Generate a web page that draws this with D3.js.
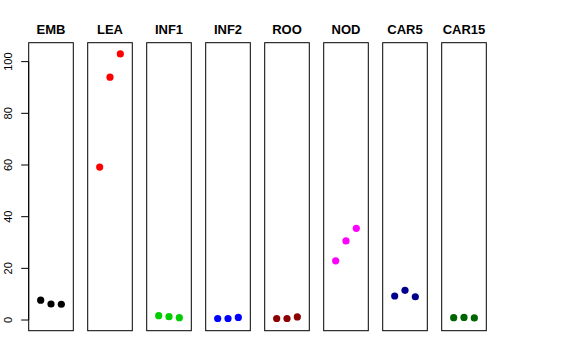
<!DOCTYPE html>
<html><head><meta charset="utf-8">
<script src="https://cdn.jsdelivr.net/npm/d3@7"></script>
<style>body{margin:0;background:#fff}svg{display:block}</style>
</head><body>
<script>
const categories = ["EMB","LEA","INF1","INF2","ROO","NOD","CAR5","CAR15"];
const colors = ["#000000","#FF0000","#00CD00","#0000FF","#8B0000","#FF00FF","#00008B","#006400"];
const EMB = [7.7, 6.2, 6.1];
const LEA = [59.2, 94.0, 103.0];
const INF1 = [1.7, 1.3, 0.9];
const INF2 = [0.6, 0.6, 1.0];
const ROO = [0.6, 0.6, 1.2];
const NOD = [22.9, 30.6, 35.5];
const CAR5 = [9.3, 11.5, 9.0];
const CAR15 = [0.9, 1.0, 0.8];
const seriesValues = [EMB, LEA, INF1, INF2, ROO, NOD, CAR5, CAR15];
const yTicks = [0, 20, 40, 60, 80, 100];

const W = 576, H = 360;
const svg = d3.select("body").append("svg").attr("width", W).attr("height", H);

const plotTop = 42.7, plotBottom = 330.7;
const yScale = d3.scaleLinear().domain([-4.13, 107.33]).range([plotBottom, plotTop]);
const panelX = d3.scaleLinear().domain([0, 8]).range([28.7, 28.7 + 59 * 8]);
const pw = 44.6;

categories.forEach((c, i) => {
  const x0 = panelX(i);
  const xs = d3.scaleLinear().domain([-0.16, 4.16]).range([x0, x0 + pw]);
  const g = svg.append("g");
  g.append("rect").attr("x", x0).attr("y", plotTop).attr("width", pw).attr("height", plotBottom - plotTop)
    .attr("fill", "none").attr("stroke", "#000").attr("stroke-width", 1);
  g.append("text").attr("x", x0 + pw / 2).attr("y", 34).attr("text-anchor", "middle")
    .attr("font-family", "Liberation Sans, Arial, sans-serif").attr("font-weight", "bold")
    .attr("font-size", 13).text(c);
  g.selectAll("circle").data(seriesValues[i]).enter().append("circle")
    .attr("cx", (d, j) => xs(j + 1)).attr("cy", d => yScale(d)).attr("r", 3.6)
    .attr("fill", colors[i]);
});

// y axis
const ax = svg.append("g");
const axX = 28.7;
ax.append("line").attr("x1", axX).attr("x2", axX).attr("y1", yScale(0)).attr("y2", yScale(100))
  .attr("stroke", "#000");
yTicks.forEach(t => {
  ax.append("line").attr("x1", axX - 7.5).attr("x2", axX).attr("y1", yScale(t)).attr("y2", yScale(t)).attr("stroke", "#000");
  ax.append("text").attr("transform", `translate(12,${yScale(t)}) rotate(-90)`)
    .attr("text-anchor", "middle").attr("font-family", "Liberation Sans, Arial, sans-serif")
    .attr("font-size", 11).text(t);
});
</script>
</body></html>
